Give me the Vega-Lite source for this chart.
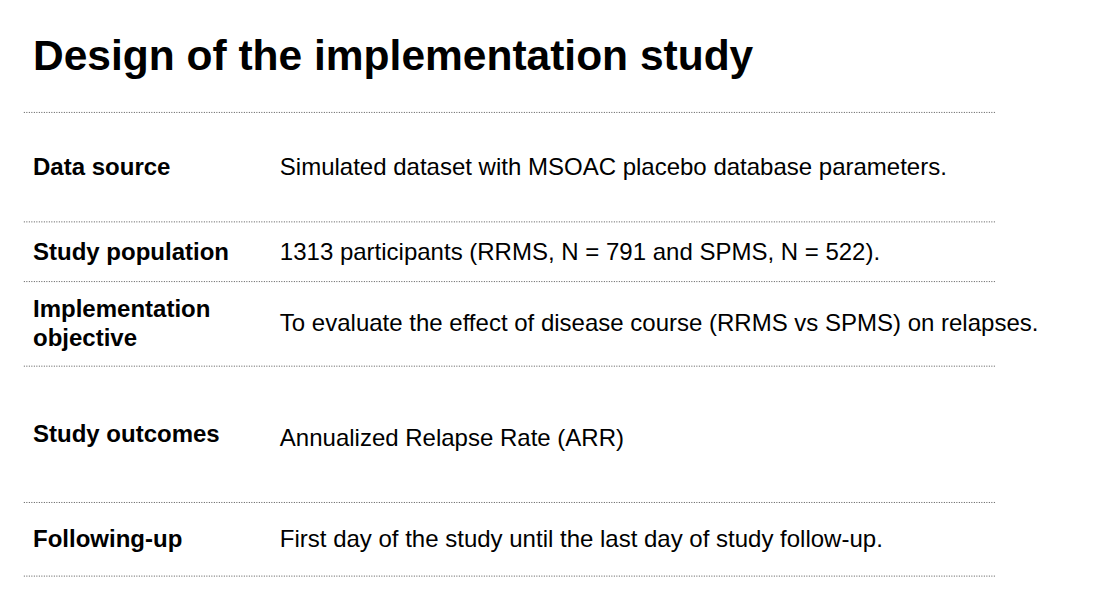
{
  "$schema": "https://vega.github.io/schema/vega-lite/v6.json",
  "width": 1101,
  "height": 597,
  "padding": 0,
  "autosize": {"type": "none"},
  "background": "white",
  "config": {"view": {"stroke": null}, "text": {"font": "Liberation Sans"}},
  "datasets": {
    "lines": [
      {"y": 113}, {"y": 223}, {"y": 283}, {"y": 368}, {"y": 505}, {"y": 579}
    ],
    "texts": [
      {"x": 36, "y": 57, "t": "Design of the implementation study", "kind": "title"},
      {"x": 36, "y": 169, "t": "Data source", "kind": "label"},
      {"x": 36, "y": 254, "t": "Study population", "kind": "label"},
      {"x": 36, "y": 312, "t": "Implementation", "kind": "label"},
      {"x": 36, "y": 341, "t": "objective", "kind": "label"},
      {"x": 36, "y": 437, "t": "Study outcomes", "kind": "label"},
      {"x": 36, "y": 543, "t": "Following-up", "kind": "label"},
      {"x": 305, "y": 169, "t": "Simulated dataset with MSOAC placebo database parameters.", "kind": "value"},
      {"x": 305, "y": 254, "t": "1313 participants (RRMS, N = 791 and SPMS, N = 522).", "kind": "value"},
      {"x": 305, "y": 326, "t": "To evaluate the effect of disease course (RRMS vs SPMS) on relapses.", "kind": "value"},
      {"x": 305, "y": 441, "t": "Annualized Relapse Rate (ARR)", "kind": "value"},
      {"x": 305, "y": 543, "t": "First day of the study until the last day of study follow-up.", "kind": "value"}
    ]
  },
  "layer": [
    {
      "data": {"name": "lines"},
      "mark": {"type": "rule", "color": "#555", "strokeWidth": 1, "strokeDash": [1, 1.5]},
      "encoding": {
        "x": {"datum": 26, "type": "quantitative", "scale": {"domain": [0, 1101], "range": [0, 1101]}, "axis": null},
        "x2": {"datum": 1085},
        "y": {"field": "y", "type": "quantitative", "scale": {"domain": [0, 597], "range": [0, 597]}, "axis": null}
      }
    },
    {
      "data": {"name": "texts"},
      "transform": [{"filter": "datum.kind == 'title'"}],
      "mark": {"type": "text", "align": "left", "baseline": "middle", "fontSize": 42.5, "fontWeight": "bold", "color": "black"},
      "encoding": {
        "x": {"field": "x", "type": "quantitative"},
        "y": {"field": "y", "type": "quantitative"},
        "text": {"field": "t"}
      }
    },
    {
      "data": {"name": "texts"},
      "transform": [{"filter": "datum.kind == 'label'"}],
      "mark": {"type": "text", "align": "left", "baseline": "middle", "fontSize": 24, "fontWeight": "bold", "color": "black"},
      "encoding": {
        "x": {"field": "x", "type": "quantitative"},
        "y": {"field": "y", "type": "quantitative"},
        "text": {"field": "t"}
      }
    },
    {
      "data": {"name": "texts"},
      "transform": [{"filter": "datum.kind == 'value'"}],
      "mark": {"type": "text", "align": "left", "baseline": "middle", "fontSize": 24, "color": "black"},
      "encoding": {
        "x": {"field": "x", "type": "quantitative"},
        "y": {"field": "y", "type": "quantitative"},
        "text": {"field": "t"}
      }
    }
  ]
}
